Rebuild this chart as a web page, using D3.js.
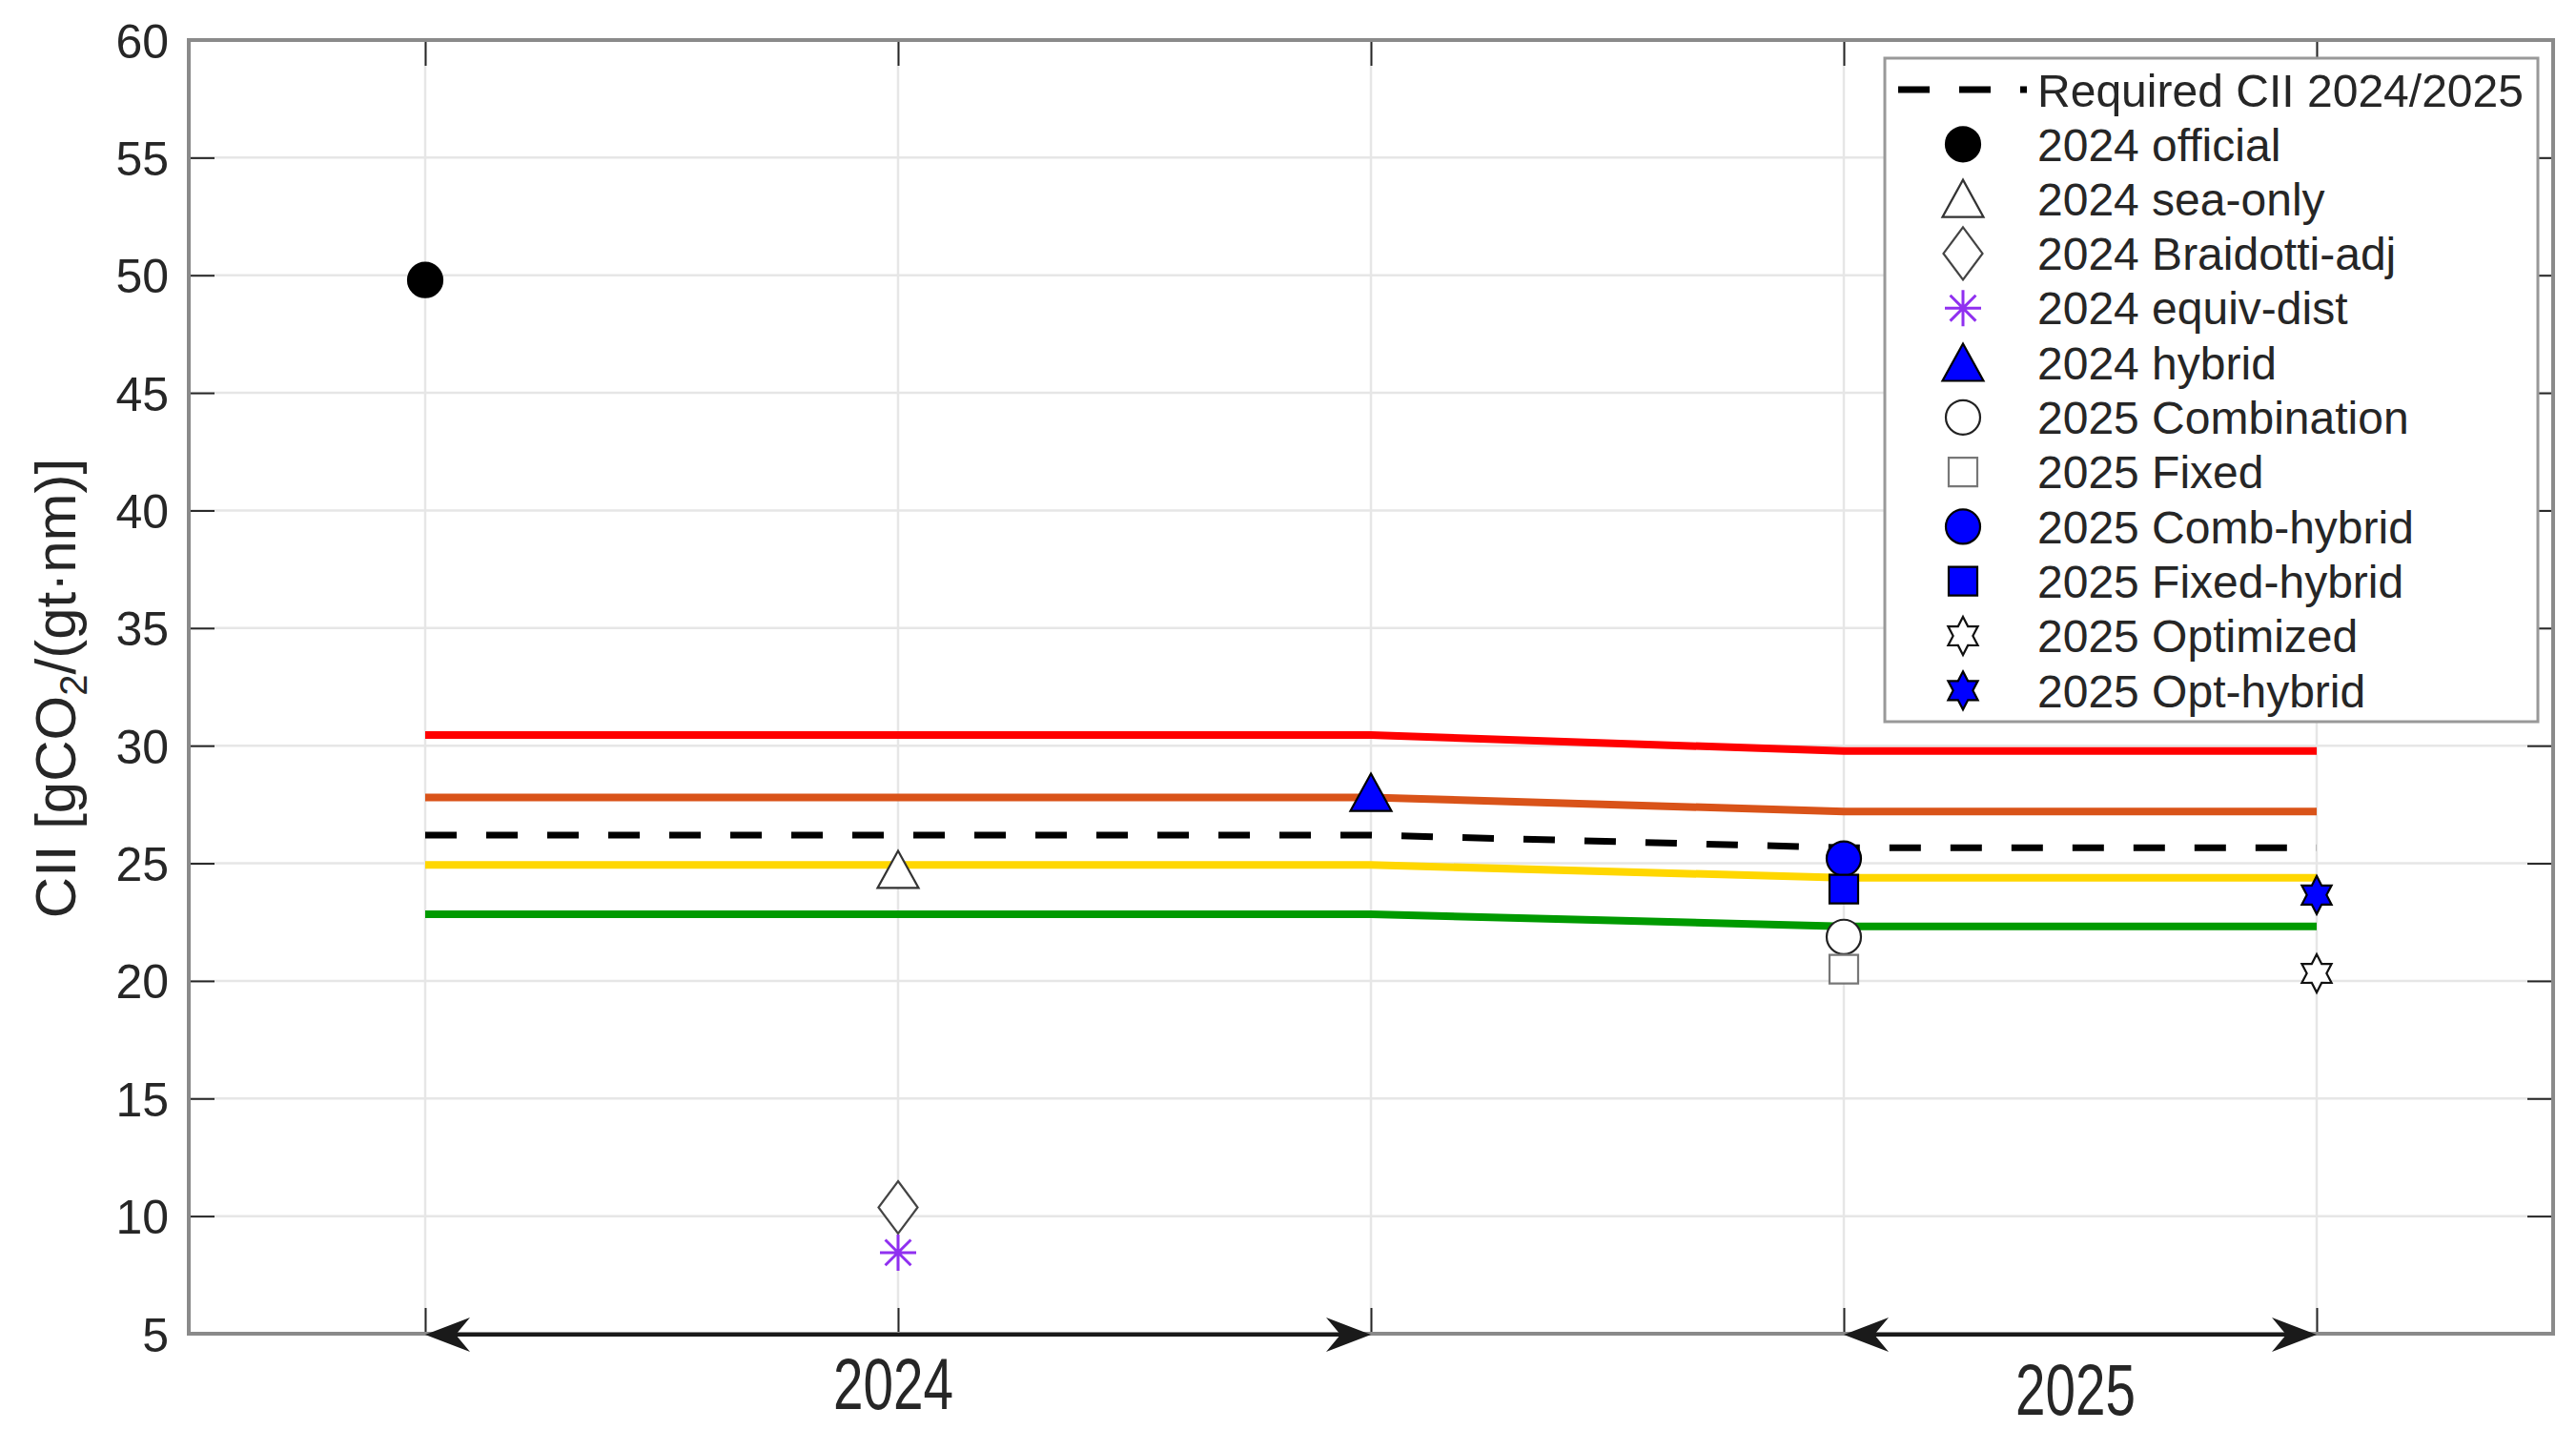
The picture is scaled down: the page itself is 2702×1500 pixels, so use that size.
<!DOCTYPE html>
<html>
<head>
<meta charset="utf-8">
<script src="https://cdn.jsdelivr.net/npm/d3@7"></script>
<style>
  html, body { margin: 0; padding: 0; background: #fff; }
  svg { display: block; }
  text { font-family: "Liberation Sans", Arial, Helvetica, sans-serif; fill: #262626; }
</style>
</head>
<body>
<svg id="chart" width="2702" height="1500"></svg>
<script>
// ---------------- data ----------------
const xPositions = [1, 2, 3, 4, 5];
const yTicks = [5, 10, 15, 20, 25, 30, 35, 40, 45, 50, 55, 60];
const periodLabels = ["2024", "2025"];
const periodSpans = [[1, 3], [4, 5]];

// rating boundary lines (2024 values at x=1..3, 2025 at x=4..5)
const boundaryRed    = [30.45, 30.45, 30.45, 29.77, 29.77];
const boundaryOrange = [27.80, 27.80, 27.80, 27.20, 27.20];
const requiredCII    = [26.20, 26.20, 26.20, 25.66, 25.66];
const boundaryYellow = [24.93, 24.93, 24.93, 24.38, 24.38];
const boundaryGreen  = [22.83, 22.83, 22.83, 22.32, 22.32];

// scenario points
const pointNames = ["2024 official", "2024 sea-only", "2024 Braidotti-adj", "2024 equiv-dist",
  "2024 hybrid", "2025 Combination", "2025 Fixed", "2025 Comb-hybrid", "2025 Fixed-hybrid",
  "2025 Optimized", "2025 Opt-hybrid"];
const pointX = [1, 2, 2, 2, 3, 4, 4, 4, 4, 5, 5];
const pointY = [49.8, 24.72, 10.37, 8.45, 28.0, 21.87, 20.5, 25.2, 23.9, 20.32, 23.65];
const pointMarker = ["circle", "triangle", "diamond", "asterisk", "triangle", "circle", "square",
  "circle", "square", "hexagram", "hexagram"];
const pointFill = ["#000000", "#ffffff", "#ffffff", "none", "#0000ff", "#ffffff", "#ffffff",
  "#0000ff", "#0000ff", "#ffffff", "#0000ff"];
const pointStroke = ["#000000", "#333333", "#444444", "#9030f0", "#000000", "#222222", "#777777",
  "#000000", "#000000", "#111111", "#000000"];
const legendTitle = "Required CII 2024/2025";

// ---------------- layout ----------------
const svg = d3.select("#chart");
const L = 198, R = 2678, T = 42, B = 1399;
const x = d3.scaleLinear().domain([0.5, 5.5]).range([L, R]);
const y = d3.scaleLinear().domain([5, 60]).range([B, T]);

// grid
const grid = svg.append("g");
grid.selectAll("line.gy").data(yTicks).join("line")
  .attr("x1", L).attr("x2", R).attr("y1", d => y(d)).attr("y2", d => y(d))
  .attr("stroke", "#e6e6e6").attr("stroke-width", 2.5);
grid.selectAll("line.gx").data(xPositions).join("line")
  .attr("x1", d => x(d)).attr("x2", d => x(d)).attr("y1", T).attr("y2", B)
  .attr("stroke", "#e6e6e6").attr("stroke-width", 2.5);

// axes via d3 axis generators (ticks inside, mirrored)
function styleAxis(g) {
  g.select(".domain").remove();
  g.selectAll(".tick line").attr("stroke", "#262626").attr("stroke-width", 2);
}
svg.append("g").attr("transform", `translate(${L},0)`)
  .call(d3.axisLeft(y).tickValues(yTicks).tickSize(-27).tickPadding(21).tickFormat(d3.format("d")))
  .call(styleAxis)
  .call(g => g.selectAll(".tick text").attr("font-size", 50).attr("fill", "#262626")
    .attr("font-family", "'Liberation Sans', Arial, sans-serif").attr("dy", "0.36em"));
svg.append("g").attr("transform", `translate(${R},0)`)
  .call(d3.axisRight(y).tickValues(yTicks).tickSize(-27).tickFormat(""))
  .call(styleAxis);
svg.append("g").attr("transform", `translate(0,${B})`)
  .call(d3.axisBottom(x).tickValues(xPositions).tickSize(-27).tickFormat(""))
  .call(styleAxis);
svg.append("g").attr("transform", `translate(0,${T})`)
  .call(d3.axisTop(x).tickValues(xPositions).tickSize(-27).tickFormat(""))
  .call(styleAxis);

// frame
svg.append("rect").attr("x", L).attr("y", T).attr("width", R - L).attr("height", B - T)
  .attr("fill", "none").attr("stroke", "#8a8a8a").attr("stroke-width", 4);

// y label
const yl = svg.append("text")
  .attr("transform", `translate(79,722) rotate(-90)`)
  .attr("text-anchor", "middle").attr("font-size", 60);
yl.append("tspan").text("CII  [gCO");
yl.append("tspan").text("2").attr("font-size", 40).attr("dy", 12);
yl.append("tspan").text("/(gt\u00b7nm)]").attr("dy", -12);

// boundary lines
const line = d3.line().x((d, i) => x(xPositions[i])).y(d => y(d));
const lineSpecs = [
  { data: boundaryRed, color: "#ff0000", w: 8, dash: null },
  { data: boundaryOrange, color: "#d95319", w: 8, dash: null },
  { data: boundaryYellow, color: "#ffd700", w: 8, dash: null },
  { data: boundaryGreen, color: "#009a00", w: 8, dash: null },
  { data: requiredCII, color: "#000000", w: 7, dash: "33,31" }
];
svg.append("g").selectAll("path").data(lineSpecs).join("path")
  .attr("d", d => line(d.data)).attr("fill", "none")
  .attr("stroke", d => d.color).attr("stroke-width", d => d.w)
  .attr("stroke-dasharray", d => d.dash);

// marker shapes
function markerPath(type) {
  const p = d3.path();
  if (type === "circle") { p.arc(0, 0, 18, 0, 2 * Math.PI); p.closePath(); }
  else if (type === "triangle") { p.moveTo(0, -20); p.lineTo(21.5, 19); p.lineTo(-21.5, 19); p.closePath(); }
  else if (type === "diamond") { p.moveTo(0, -27.5); p.lineTo(20.5, 0); p.lineTo(0, 27.5); p.lineTo(-20.5, 0); p.closePath(); }
  else if (type === "square") { p.rect(-15, -15, 30, 30); }
  else if (type === "hexagram") {
    for (let k = 0; k < 12; k++) {
      const r = k % 2 === 0 ? 20 : 11.5;
      const a = -Math.PI / 2 + k * Math.PI / 6;
      const px = r * Math.cos(a) * 0.9, py = r * Math.sin(a);
      if (k === 0) p.moveTo(px, py); else p.lineTo(px, py);
    }
    p.closePath();
  } else if (type === "asterisk") {
    const r = 19;
    for (let k = 0; k < 4; k++) {
      const a = k * Math.PI / 4;
      p.moveTo(-r * Math.cos(a), -r * Math.sin(a)); p.lineTo(r * Math.cos(a), r * Math.sin(a));
    }
  }
  return p.toString();
}

const pts = pointNames.map((n, i) => ({ name: n, x: pointX[i], y: pointY[i], m: pointMarker[i], f: pointFill[i], s: pointStroke[i] }));
svg.append("g").selectAll("path").data(pts).join("path")
  .attr("transform", d => `translate(${x(d.x)},${y(d.y)})`)
  .attr("d", d => markerPath(d.m))
  .attr("fill", d => d.f).attr("stroke", d => d.s)
  .attr("stroke-width", d => d.m === "asterisk" ? 3 : 2.2);

// period arrows
const arrowY = B + 1;
function arrowHead(tipX, dir) {
  const p = d3.path();
  p.moveTo(tipX, arrowY);
  p.lineTo(tipX + dir * 47, arrowY - 18);
  p.lineTo(tipX + dir * 32, arrowY);
  p.lineTo(tipX + dir * 47, arrowY + 18);
  p.closePath();
  return p.toString();
}
const arrows = svg.append("g");
periodSpans.forEach((s, i) => {
  arrows.append("line").attr("x1", x(s[0]) + 20).attr("x2", x(s[1]) - 20)
    .attr("y1", arrowY).attr("y2", arrowY).attr("stroke", "#1a1a1a").attr("stroke-width", 4);
  arrows.append("path").attr("d", arrowHead(x(s[0]), 1)).attr("fill", "#1a1a1a");
  arrows.append("path").attr("d", arrowHead(x(s[1]), -1)).attr("fill", "#1a1a1a");
  arrows.append("text").attr("x", (x(s[0]) + x(s[1])) / 2 - 5).attr("y", i === 0 ? 1478 : 1484)
    .attr("text-anchor", "middle").attr("font-size", 76)
    .attr("textLength", 126).attr("lengthAdjust", "spacingAndGlyphs")
    .attr("fill", "#111").text(periodLabels[i]);
});

// legend
const lg = svg.append("g");
lg.append("rect").attr("x", 1977).attr("y", 61).attr("width", 685).attr("height", 696)
  .attr("fill", "#fff").attr("stroke", "#999").attr("stroke-width", 3);
const rowY = i => 94 + i * 57.3;
lg.append("line").attr("x1", 1991).attr("x2", 2126).attr("y1", rowY(0)).attr("y2", rowY(0))
  .attr("stroke", "#000").attr("stroke-width", 7).attr("stroke-dasharray", "33,31");
lg.append("text").attr("x", 2137).attr("y", rowY(0)).attr("dy", "0.36em")
  .attr("font-size", 49).attr("textLength", 510).attr("lengthAdjust", "spacingAndGlyphs").text(legendTitle);
pts.forEach((d, i) => {
  lg.append("path").attr("transform", `translate(2059,${rowY(i + 1)})`)
    .attr("d", markerPath(d.m)).attr("fill", d.f).attr("stroke", d.s)
    .attr("stroke-width", d.m === "asterisk" ? 3 : 2.2);
  lg.append("text").attr("x", 2137).attr("y", rowY(i + 1)).attr("dy", "0.36em")
    .attr("font-size", 48).text(d.name);
});
</script>
</body>
</html>
